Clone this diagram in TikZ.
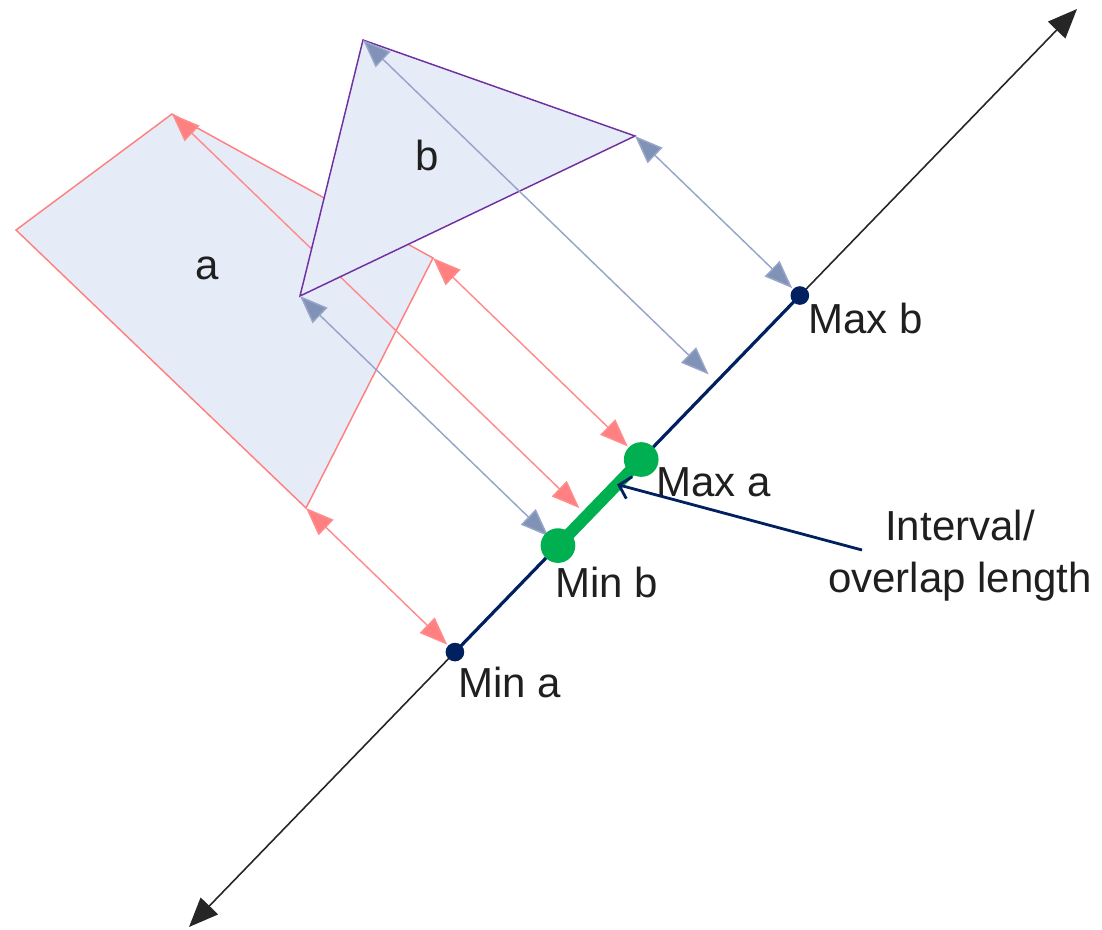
\documentclass[tikz,border=0pt]{standalone}
\usepackage{fontspec}
\setmainfont{Liberation Sans}
\usetikzlibrary{arrows.meta,calc}
\definecolor{shapefill}{RGB}{230,236,247}
\definecolor{redc}{RGB}{255,128,128}
\definecolor{redline}{RGB}{255,140,140}
\definecolor{purplec}{RGB}{112,48,160}
\definecolor{bluehead}{RGB}{128,146,182}
\definecolor{blueline}{RGB}{150,165,200}
\definecolor{navy}{RGB}{0,32,96}
\definecolor{greenc}{RGB}{0,176,80}
\tikzset{
  lbl/.style={font=\fontsize{31.5}{39}\selectfont, inner sep=0pt, text=black!88},
  redproj/.style={draw=redline, line width=1.1pt,
     {Triangle[length=21pt,width=16pt,fill=redc]}-{Triangle[length=21pt,width=16pt,fill=redc]}},
  blueproj/.style={draw=blueline, line width=1.1pt,
     {Triangle[length=21pt,width=16pt,fill=bluehead]}-{Triangle[length=21pt,width=16pt,fill=bluehead]}},
  navydot/.style={circle, fill=navy, inner sep=0pt, minimum size=14pt},
  greendot/.style={circle, fill=greenc, inner sep=0pt, minimum size=26pt},
}
\begin{document}
\begin{tikzpicture}[x=0.75pt,y=-0.75pt]
\useasboundingbox (0,0) rectangle (1102,929);
% vertices
\coordinate (A1) at (16,230);
\coordinate (A2) at (172,114);
\coordinate (A3) at (433,258);
\coordinate (A4) at (306,508);
\coordinate (B1) at (363,40);
\coordinate (B2) at (635,136);
\coordinate (B3) at (300,296);
\coordinate (axS) at (189,927);
\coordinate (axE) at (1077,9);
% projections
\coordinate (pA2) at ($(axS)!(A2)!(axE)$);
\coordinate (pA3) at ($(axS)!(A3)!(axE)$);
\coordinate (pA4) at ($(axS)!(A4)!(axE)$);
\coordinate (pB1) at ($(axS)!(B1)!(axE)$);
\coordinate (pB2) at ($(axS)!(B2)!(axE)$);
\coordinate (pB3) at ($(axS)!(B3)!(axE)$);
% shape a
\fill[shapefill] (A1) -- (A2) -- (A3) -- (A4) -- cycle;
\draw[redc, line width=1.1pt, line join=miter] (A1) -- (A2) -- (A3) -- (A4) -- cycle;
\node[lbl] (la) at (207,268) {a};
% red projection arrows
\draw[redproj, shorten >=8pt] (A2) -- (pA2);
\draw[redproj, shorten >=14pt] (A3) -- (pA3);
\draw[redproj, shorten >=8pt] (A4) -- (pA4);
% shape b
\fill[shapefill] (B1) -- (B2) -- (B3) -- cycle;
\draw[purplec, line width=1.1pt] (B1) -- (B2) -- (B3) -- cycle;
\node[lbl] (lb) at (427,155) {b};
% blue projection arrows
\draw[blueproj, shorten >=8pt] (B1) -- (pB1);
\draw[blueproj, shorten >=8pt] (B2) -- (pB2);
\draw[blueproj, shorten >=10pt] (B3) -- (pB3);
% axis
\draw[black!85, line width=1.2pt, {Triangle[length=22pt,width=18pt]}-{Triangle[length=22pt,width=18pt]}] (axS) -- (axE);
\draw[navy, line width=2.4pt] (pA4) -- (pB2);
\node[navydot] (mina) at (pA4) {};
\node[navydot] (maxb) at (pB2) {};
\draw[greenc, line width=9pt] (pB3) -- (pA3);
\node[greendot] (minb) at (pB3) {};
\node[greendot] (maxa) at (pA3) {};
% labels
\node[lbl, anchor=west] (tmaxb) at (808,318) {Max b};
\node[lbl, anchor=west] (tmaxa) at (656,482) {Max a};
\node[lbl, anchor=west] (tminb) at (555,582) {Min b};
\node[lbl, anchor=west] (tmina) at (458,682) {Min a};
\node[lbl, align=center] (ivl) at (960,556) {Interval/\\overlap length};
\coordinate (ivtail) at (862,550);
\draw[navy, line width=2.1pt, -{Straight Barb[length=8pt,width=17pt]}] (ivtail) -- ($(minb)!0.71!(maxa)$);
\end{tikzpicture}
\end{document}
